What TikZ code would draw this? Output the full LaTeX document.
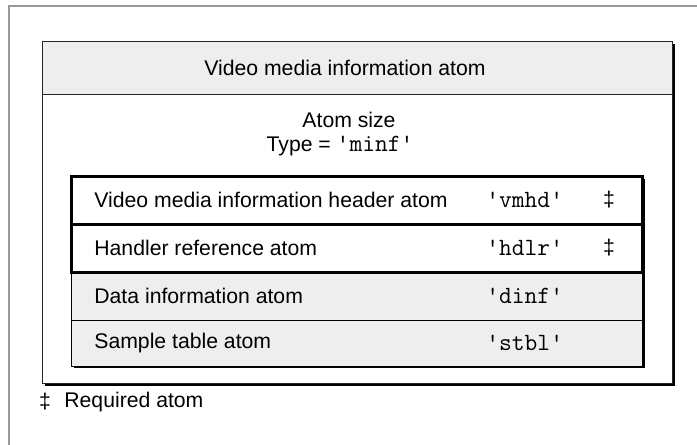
\documentclass[tikz,border=0pt]{standalone}
\usepackage{fontspec}
\setmainfont{Liberation Sans}
\usetikzlibrary{positioning}

\begin{document}
\begin{tikzpicture}[x=0.5pt, y=-0.5pt, every node/.style={font=\fontsize{10.6}{12}\selectfont, inner sep=0pt},
	framebox/.style={draw=black!85, line width=0.5pt},
	shadowbox/.style={fill=black},
	requiredrow/.style={draw=black, line width=1.5pt, fill=white},
	otherrow/.style={draw=black, line width=0.5pt, fill=gray!13},
	rowlabel/.style={anchor=west},
	rowcode/.style={anchor=west, font=\fontsize{12.4}{12}\ttfamily}]
	\useasboundingbox (0,0) rectangle (697,445);
	\draw[black!40, line width=0.6pt] (697,6) -- (9,6) -- (9,445);
	% outer atom
	\fill[shadowbox] (45,44) rectangle (675,386);
	\draw[framebox, fill=white] (42,41) rectangle (672,383);
	\draw[framebox, fill=gray!13] (42,41) rectangle (672,94);
	\node (title) at (345,68) {Video media information atom};
	\node (size) at (349,120) {Atom size};
	\node (type) at (340,146) {Type = {\fontsize{12.4}{12}\ttfamily\textquotesingle minf\textquotesingle}};
	% child atoms
	\fill[shadowbox] (74,179) rectangle (645,368);
	\draw[otherrow] (71,272) rectangle (642,320);
	\draw[otherrow] (71,320) rectangle (642,366);
	\draw[requiredrow] (71,176) rectangle (642,224);
	\draw[requiredrow] (71,224) rectangle (642,272);
	\node[rowlabel] (vmhd) at (94,200) {Video media information header atom};
	\node[rowcode] (vmhdcode) at (486,200) {\textquotesingle vmhd\textquotesingle};
	\node (vmhdmark) at (609,200) {‡};
	\node[rowlabel] (hdlr) at (94,248) {Handler reference atom};
	\node[rowcode] (hdlrcode) at (486,248) {\textquotesingle hdlr\textquotesingle};
	\node (hdlrmark) at (609,248) {‡};
	\node[rowlabel] (dinf) at (94,296) {Data information atom};
	\node[rowcode] (dinfcode) at (486,296) {\textquotesingle dinf\textquotesingle};
	\node[rowlabel] (stbl) at (94,343) {Sample table atom};
	\node[rowcode] (stblcode) at (486,343) {\textquotesingle stbl\textquotesingle};
	% footnote
	\node (keymark) at (45,402) {‡};
	\node[anchor=west] (keytext) at (64,402) {Required atom};
\end{tikzpicture}
\end{document}
